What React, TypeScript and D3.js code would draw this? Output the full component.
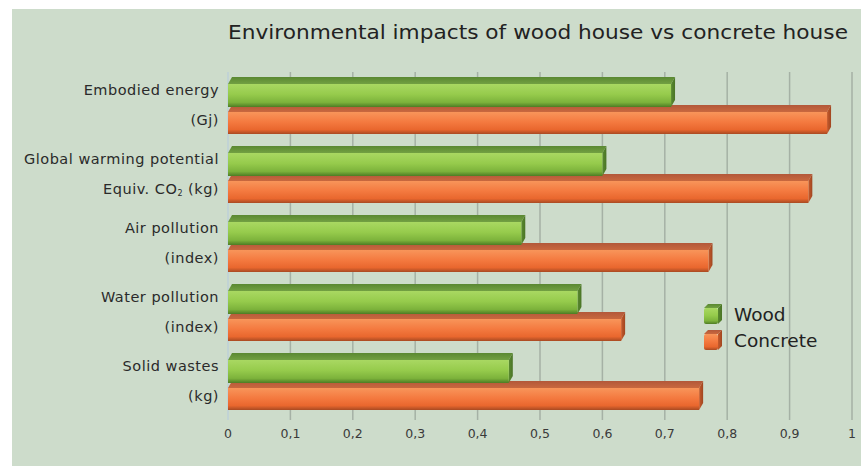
import React from "react";
import * as d3 from "d3";

const categories = ["Embodied energy", "Global warming potential", "Air pollution", "Water pollution", "Solid wastes"];
const subLabels = ["(Gj)", "Equiv. CO2 (kg)", "(index)", "(index)", "(kg)"];
const woodValues = [0.71, 0.6, 0.47, 0.56, 0.45];
const concreteValues = [0.96, 0.93, 0.77, 0.63, 0.755];
const tickValues = [0, 0.1, 0.2, 0.3, 0.4, 0.5, 0.6, 0.7, 0.8, 0.9, 1];
const seriesNames = ["Wood", "Concrete"];

const W = 861;
const H = 466;
const FONT = "'DejaVu Sans', Verdana, sans-serif";

export default function App() {
  const x = d3.scaleLinear().domain([0, 1]).range([228, 852]);
  const y = d3.scaleBand<string>().domain(categories).range([72, 417]).paddingInner(0).paddingOuter(0);
  const dx = 4;
  const dy = 7;
  const fmt = (v: number) => String(v).replace(".", ",");

  const bar = (v: number, top: number, h: number, kind: "g" | "o", key: string) => {
    const x0 = x(0);
    const x1 = x(v);
    const bottom = top + h;
    return (
      <g key={key}>
        <polygon
          points={`${x0},${top} ${x0 + dx},${top - dy} ${x1 + dx},${top - dy} ${x1},${top}`}
          fill={`url(#${kind}Top)`}
        />
        <polygon
          points={`${x1},${top} ${x1 + dx},${top - dy} ${x1 + dx},${bottom - dy} ${x1},${bottom}`}
          fill={`url(#${kind}Side)`}
        />
        <rect x={x0} y={top} width={x1 - x0} height={h} fill={`url(#${kind}Front)`} />
      </g>
    );
  };

  return (
    <div style={{ position: "absolute", left: 0, top: 0 }}>
      <svg width={W} height={H} style={{ display: "block" }}>
        <defs>
          <linearGradient id="gFront" x1="0" y1="0" x2="0" y2="1">
            <stop offset="0" stopColor="#a9d862" />
            <stop offset="0.45" stopColor="#96cb4c" />
            <stop offset="0.8" stopColor="#7cb23b" />
            <stop offset="1" stopColor="#4d7c24" />
          </linearGradient>
          <linearGradient id="gTop" x1="0" y1="0" x2="0" y2="1">
            <stop offset="0" stopColor="#5a8832" />
            <stop offset="1" stopColor="#72a042" />
          </linearGradient>
          <linearGradient id="gSide" x1="0" y1="0" x2="1" y2="0">
            <stop offset="0" stopColor="#5a8a30" />
            <stop offset="1" stopColor="#4a7426" />
          </linearGradient>
          <linearGradient id="oFront" x1="0" y1="0" x2="0" y2="1">
            <stop offset="0" stopColor="#f8955a" />
            <stop offset="0.45" stopColor="#f47a40" />
            <stop offset="0.8" stopColor="#e9672e" />
            <stop offset="1" stopColor="#a84a22" />
          </linearGradient>
          <linearGradient id="oTop" x1="0" y1="0" x2="0" y2="1">
            <stop offset="0" stopColor="#b2583a" />
            <stop offset="1" stopColor="#c9683e" />
          </linearGradient>
          <linearGradient id="oSide" x1="0" y1="0" x2="1" y2="0">
            <stop offset="0" stopColor="#c65a2c" />
            <stop offset="1" stopColor="#a04620" />
          </linearGradient>
        </defs>
        <rect x={0} y={0} width={W} height={H} fill="#ffffff" />
        <rect x={12} y={9} width={W - 12} height={H - 9} fill="#cddccb" />

        {tickValues.map((t) => (
          <line
            key={`g${t}`}
            x1={x(t)}
            x2={x(t)}
            y1={72}
            y2={420}
            stroke={t === 0 ? "#bcd0d8" : "#a5b1a5"}
            strokeWidth={1.5}
          />
        ))}

        {categories.map((c, i) => {
          const y0 = y(c) as number;
          return (
            <g key={c}>
              {bar(concreteValues[i], y0 + 40, 22, "o", "o")}
              {bar(woodValues[i], y0 + 12, 23, "g", "g")}
            </g>
          );
        })}

        {categories.map((c, i) => {
          const y0 = y(c) as number;
          return (
            <g key={`l${c}`} fontFamily={FONT} fontSize={14.5} letterSpacing={0.5} fill="#2a2a2a" textAnchor="end">
              <text x={219} y={y0 + 18} dominantBaseline="central">{c}</text>
              {i === 1 ? (
                <text x={219} y={y0 + 48} dominantBaseline="central">
                  Equiv. CO<tspan fontSize={8} dy={4}>2</tspan>
                  <tspan dy={-4}> (kg)</tspan>
                </text>
              ) : (
                <text x={219} y={y0 + 48} dominantBaseline="central">{subLabels[i]}</text>
              )}
            </g>
          );
        })}

        {tickValues.map((t) => (
          <text
            key={`t${t}`}
            x={x(t)}
            y={433}
            fontFamily={FONT}
            fontSize={12.5}
            fill="#3a3a3a"
            textAnchor="middle"
            dominantBaseline="central"
          >
            {fmt(t)}
          </text>
        ))}

        <text
          x={228}
          y={39}
          fontFamily={FONT}
          fontSize={19}
          fill="#222"
          textLength={620}
          lengthAdjust="spacingAndGlyphs"
        >
          Environmental impacts of wood house vs concrete house
        </text>

        {seriesNames.map((s, i) => {
          const ly = 304 + i * 26;
          const k = i === 0 ? "g" : "o";
          return (
            <g key={s}>
              <polygon
                points={`${704},${ly + 4} ${708},${ly} ${722},${ly} ${718},${ly + 4}`}
                fill={`url(#${k}Top)`}
              />
              <polygon
                points={`${718},${ly + 4} ${722},${ly} ${722},${ly + 16} ${718},${ly + 20}`}
                fill={`url(#${k}Side)`}
              />
              <rect x={704} y={ly + 4} width={14} height={16} rx={2} fill={`url(#${k}Front)`} />
              <text
                x={734}
                y={ly + 10}
                fontFamily={FONT}
                fontSize={18.5}
                fill="#222"
                dominantBaseline="central"
              >
                {s}
              </text>
            </g>
          );
        })}
      </svg>
    </div>
  );
}
